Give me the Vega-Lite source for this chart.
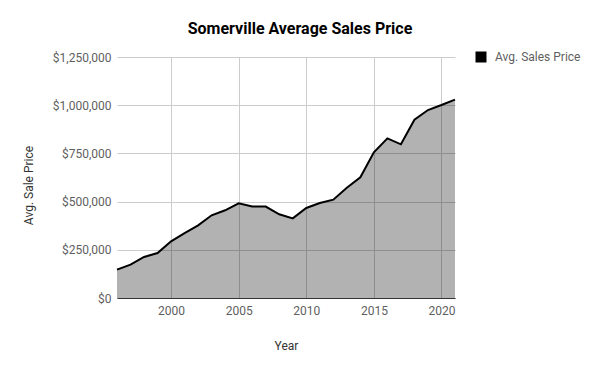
{
  "$schema": "https://vega.github.io/schema/vega-lite/v6.json",
  "width": 338,
  "height": 241,
  "autosize": {"type": "none"},
  "padding": {"left": 117, "top": 57, "right": 145, "bottom": 73},
  "background": "white",
  "config": {
    "font": "Roboto",
    "view": {"stroke": null}
  },
  "title": {
    "text": "Somerville Average Sales Price",
    "font": "Roboto",
    "fontSize": 16,
    "fontWeight": "bold",
    "color": "#000000",
    "anchor": "middle",
    "dx": 14,
    "offset": 14
  },
  "data": {
    "values": [
      {"Year": 1996, "Price": 147000},
      {"Year": 1997, "Price": 173000},
      {"Year": 1998, "Price": 213000},
      {"Year": 1999, "Price": 233000},
      {"Year": 2000, "Price": 294000},
      {"Year": 2001, "Price": 337000},
      {"Year": 2002, "Price": 377000},
      {"Year": 2003, "Price": 429000},
      {"Year": 2004, "Price": 455000},
      {"Year": 2005, "Price": 491000},
      {"Year": 2006, "Price": 475000},
      {"Year": 2007, "Price": 474000},
      {"Year": 2008, "Price": 434000},
      {"Year": 2009, "Price": 413000},
      {"Year": 2010, "Price": 467000},
      {"Year": 2011, "Price": 493000},
      {"Year": 2012, "Price": 510000},
      {"Year": 2013, "Price": 572000},
      {"Year": 2014, "Price": 626000},
      {"Year": 2015, "Price": 756000},
      {"Year": 2016, "Price": 828000},
      {"Year": 2017, "Price": 797000},
      {"Year": 2018, "Price": 925000},
      {"Year": 2019, "Price": 975000},
      {"Year": 2020, "Price": 1001000},
      {"Year": 2021, "Price": 1029000}
    ]
  },
  "encoding": {
    "x": {
      "field": "Year",
      "type": "quantitative",
      "scale": {"domain": [1996, 2021], "nice": false, "zero": false},
      "axis": {
        "values": [2000, 2005, 2010, 2015, 2020],
        "format": "d",
        "title": "Year",
        "titleFont": "Roboto",
        "titleFontSize": 12,
        "titleFontWeight": "normal",
        "titleColor": "#333333",
        "titleX": 169,
        "titleY": 47,
        "titleBaseline": "middle",
        "labelFont": "Roboto",
        "labelFontSize": 12,
        "labelColor": "#5f5f5f",
        "labelPadding": 7,
        "ticks": false,
        "domainColor": "#333333",
        "domainWidth": 1,
        "gridColor": "#cccccc",
        "gridWidth": 1
      }
    },
    "y": {
      "field": "Price",
      "type": "quantitative",
      "scale": {"domain": [0, 1250000], "nice": false},
      "axis": {
        "values": [0, 250000, 500000, 750000, 1000000, 1250000],
        "format": "$,.0f",
        "title": "Avg. Sale Price",
        "titleFont": "Roboto",
        "titleFontSize": 12,
        "titleFontWeight": "normal",
        "titleColor": "#333333",
        "titleX": -89,
        "titleY": 128,
        "titleAngle": 270,
        "titleAlign": "center",
        "titleBaseline": "middle",
        "labelFont": "Roboto",
        "labelFontSize": 12,
        "labelColor": "#5f5f5f",
        "labelPadding": 6,
        "ticks": false,
        "domain": false,
        "gridColor": "#cccccc",
        "gridWidth": 1
      }
    }
  },
  "layer": [
    {
      "mark": {"type": "area", "opacity": 0.3},
      "encoding": {
        "color": {
          "datum": "Avg. Sales Price",
          "type": "nominal",
          "scale": {"domain": ["Avg. Sales Price"], "range": ["#000000"]},
          "legend": {
            "title": null,
            "orient": "none",
            "legendX": 358,
            "legendY": -6,
            "padding": 0,
            "symbolType": "square",
            "symbolSize": 121,
            "symbolOpacity": 1,
            "symbolStrokeWidth": 0,
            "labelFont": "Roboto",
            "labelFontSize": 12,
            "labelColor": "#5f5f5f",
            "labelOffset": 8
          }
        }
      }
    },
    {
      "mark": {"type": "line", "color": "#000000", "strokeWidth": 2},
      "encoding": {}
    }
  ]
}
